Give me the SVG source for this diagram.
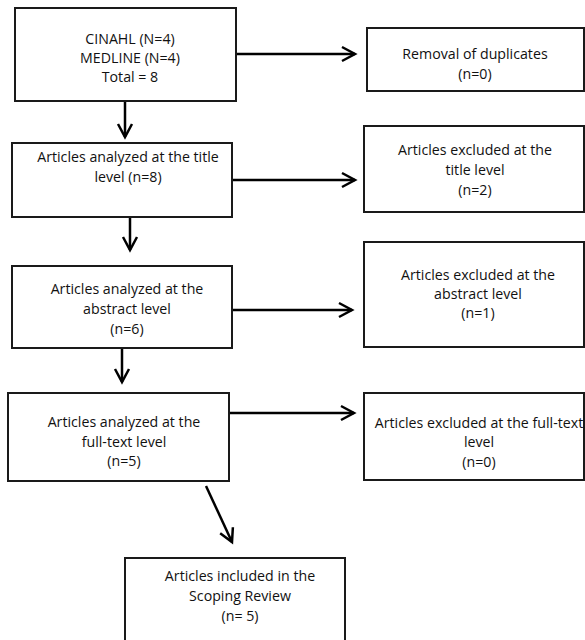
<svg xmlns="http://www.w3.org/2000/svg" width="585" height="640" viewBox="0 0 585 640">
<style>
.box{fill:#fff;stroke:#1a1a1a;stroke-width:2}
.t{font-family:"Open Sans","Liberation Sans",Arial,sans-serif;font-size:14.2px;fill:#111;text-anchor:middle}
.c{stroke:#000;stroke-width:2.5;fill:none;marker-end:url(#ah)}
</style>
<defs>
<marker id="ah" markerUnits="userSpaceOnUse" viewBox="-15 -9 17 18" refX="0" refY="0" markerWidth="17" markerHeight="18" orient="auto" overflow="visible">
<path d="M-13,-7 L0,0 L-13,7" fill="none" stroke="#000" stroke-width="2.5" stroke-linejoin="miter"/>
</marker>
</defs>
<rect width="585" height="640" fill="#fff"/>
<g id="connectors">
<line class="c" x1="236" y1="54" x2="355" y2="54"/>
<line class="c" x1="125" y1="101" x2="125" y2="137"/>
<line class="c" x1="232" y1="180" x2="355" y2="180"/>
<line class="c" x1="130" y1="217" x2="130" y2="250"/>
<line class="c" x1="232" y1="310" x2="352" y2="310"/>
<line class="c" x1="122" y1="348" x2="122" y2="382"/>
<line class="c" x1="229" y1="413" x2="354" y2="413"/>
<line class="c" x1="206" y1="486" x2="232" y2="542"/>
</g>
<g id="n1"><rect class="box" x="15" y="8" width="221" height="93"/>
<text class="t" x="130" y="44">CINAHL (N=4)</text><text class="t" x="130" y="63">MEDLINE (N=4)</text><text class="t" x="130" y="82">Total = 8</text></g>
<g id="n2"><rect class="box" x="367" y="28" width="217" height="63"/>
<text class="t" x="475" y="59">Removal of duplicates</text><text class="t" x="475" y="79">(n=0)</text></g>
<g id="n3"><rect class="box" x="12" y="143" width="220" height="74"/>
<text class="t" x="128" y="162">Articles analyzed at the title</text><text class="t" x="128" y="182">level (n=8)</text></g>
<g id="n4"><rect class="box" x="364" y="126" width="220" height="86"/>
<text class="t" x="475" y="155">Articles excluded at the</text><text class="t" x="475" y="175">title level</text><text class="t" x="475" y="195">(n=2)</text></g>
<g id="n5"><rect class="box" x="12" y="266" width="220" height="82"/>
<text class="t" x="127" y="294">Articles analyzed at the</text><text class="t" x="127" y="314">abstract level</text><text class="t" x="127" y="334">(n=6)</text></g>
<g id="n6"><rect class="box" x="364" y="242" width="220" height="105"/>
<text class="t" x="478" y="280">Articles excluded at the</text><text class="t" x="478" y="299">abstract level</text><text class="t" x="478" y="318">(n=1)</text></g>
<g id="n7"><rect class="box" x="8" y="393" width="221" height="88"/>
<text class="t" x="124" y="427">Articles analyzed at the</text><text class="t" x="124" y="447">full-text level</text><text class="t" x="124" y="466">(n=5)</text></g>
<g id="n8"><rect class="box" x="364" y="393" width="220" height="87"/>
<text class="t" x="479" y="428">Articles excluded at the full-text</text><text class="t" x="479" y="447">level</text><text class="t" x="479" y="467">(n=0)</text></g>
<g id="n9"><rect class="box" x="125" y="558" width="220" height="90"/>
<text class="t" x="240" y="581">Articles included in the</text><text class="t" x="240" y="601">Scoping Review</text><text class="t" x="240" y="621">(n= 5)</text></g>
</svg>
